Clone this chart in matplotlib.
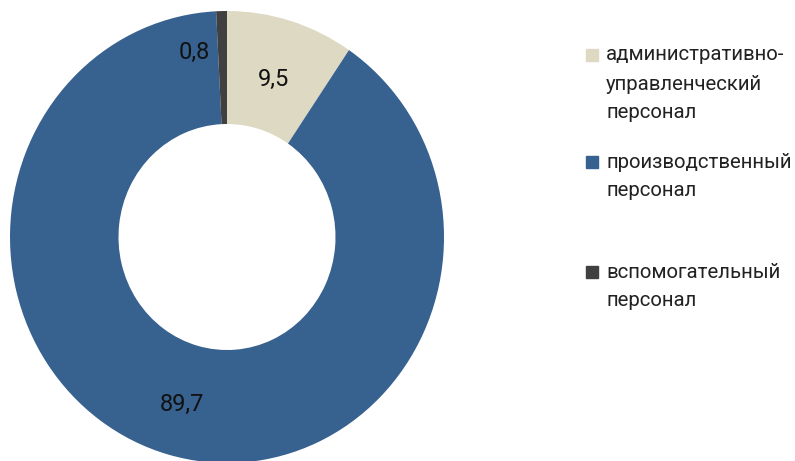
import numpy as np
import matplotlib
matplotlib.use("Agg")
import matplotlib.pyplot as plt
from matplotlib.patches import Rectangle

categories = ["административно-\nуправленческий\nперсонал",
              "производственный\nперсонал",
              "вспомогательный\nперсонал"]
shares = [9.5, 89.7, 0.8]
colors = ["#DDD9C3", "#37618F", "#404040"]

plt.rcParams["font.family"] = ["Roboto", "DejaVu Sans"]

fig = plt.figure(figsize=(7.95, 4.61), dpi=100)
W, H = 795, 461
# donut axes (slightly taller than wide, like the original)
ax = fig.add_axes([10 / W, -2 / H, 434 / W, 452 / H])
wedges, _ = ax.pie(shares, colors=colors, startangle=90, counterclock=False,
                   radius=1.0, wedgeprops=dict(width=0.5, linewidth=0))
ax.set_aspect("auto")
ax.set_xlim(-1, 1)
ax.set_ylim(-1, 1)

# value labels in the ring
label_r = [0.73, 0.77, 0.83]
label_shift = [0, 0, 9]  # degrees, small slice label pushed aside
for w, v, r, s in zip(wedges, shares, label_r, label_shift):
    ang = np.deg2rad((w.theta1 + w.theta2) / 2 + s)
    ax.text(r * np.cos(ang), r * np.sin(ang), str(v).replace(".", ","),
            ha="center", va="center", fontsize=17, color="#111111")

# legend
entry_y = [55, 162, 272]
line_h = 29
for cat, c, y in zip(categories, colors, entry_y):
    fig.patches.append(Rectangle((586 / W, 1 - (y + 6) / H), 12 / W, 12 / H,
                                 transform=fig.transFigure, color=c))
    for i, line in enumerate(cat.split("\n")):
        fig.text(606 / W, 1 - (y + i * line_h) / H, line, ha="left", va="center",
                 fontsize=14.7, color="#222222")

fig.savefig("out.png", dpi=100)
